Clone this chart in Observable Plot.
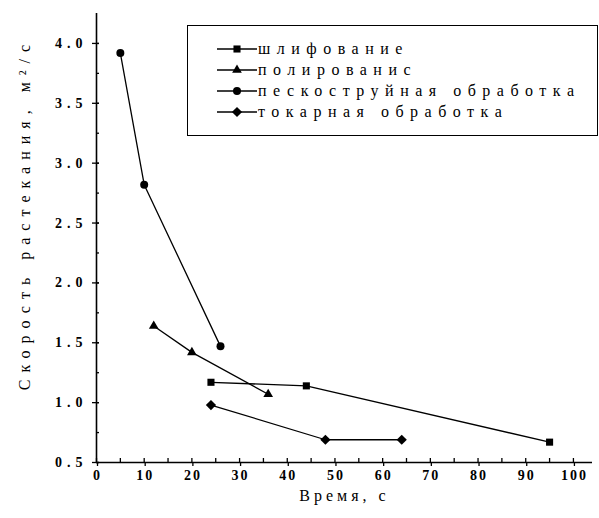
<!DOCTYPE html>
<html>
<head>
<meta charset="utf-8">
<script src="https://cdn.jsdelivr.net/npm/d3@7"></script>
<script src="https://cdn.jsdelivr.net/npm/@observablehq/plot@0.6"></script>
<style>
  body { margin: 0; background: #fff; }
  #wrap { position: relative; width: 599px; height: 518px; font-family: "Liberation Serif", serif; }
  #wrap svg g[aria-label="x-axis tick label"] text { font-weight: bold; letter-spacing: 2px; }
  #wrap svg g[aria-label="y-axis tick label"] text { font-weight: bold; letter-spacing: 5px; }
  #wrap svg g[aria-label="text"] text { letter-spacing: 4px; }
  #wrap svg g[aria-label="text"]:last-of-type text { letter-spacing: 7px; }
  #legend { position: absolute; left: 187px; top: 25px; width: 411px; height: 111px; box-sizing: border-box;
            border: 1.5px solid #000; background: #fff; padding-top: 12px; }
  .row { display: flex; align-items: center; height: 21px; }
  .row svg { margin-left: 27px; flex: none; }
  .row span { margin-left: -1px; font-size: 16px; letter-spacing: 6.5px; white-space: nowrap; color: #000; }
</style>
</head>
<body>
<div id="wrap"></div>
<script>
// ---- data ----
const seriesNames = ["шлифование", "полированис", "пескоструйная обработка", "токарная обработка"];
const seriesSymbols = ["square", "triangle", "circle", "diamond2"];
const seriesR = [4, 3.6, 4, 4.6];

const grindTime = [24, 44, 95];
const grindSpeed = [1.17, 1.14, 0.67];
const polishTime = [12, 20, 36];
const polishSpeed = [1.64, 1.42, 1.07];
const blastTime = [5, 10, 26];
const blastSpeed = [3.92, 2.82, 1.47];
const turnTime = [24, 48, 64];
const turnSpeed = [0.98, 0.69, 0.69];

const xMajor = [0, 10, 20, 30, 40, 50, 60, 70, 80, 90, 100];
const xMinor = [0, 5, 10, 15, 20, 25, 30, 35, 40, 45, 50, 55, 60, 65, 70, 75, 80, 85, 90, 95, 100];
const yMajor = [0.5, 1.0, 1.5, 2.0, 2.5, 3.0, 3.5, 4.0];
const yMinor = [0.5, 0.75, 1.0, 1.25, 1.5, 1.75, 2.0, 2.25, 2.5, 2.75, 3.0, 3.25, 3.5, 3.75, 4.0];

const xTitle = "Время, с";
const yTitle = "Скорость растекания, м²/с";

// ---- build rows ----
const times = [grindTime, polishTime, blastTime, turnTime];
const speeds = [grindSpeed, polishSpeed, blastSpeed, turnSpeed];
const rows = [];
seriesNames.forEach((s, i) => times[i].forEach((t, j) => rows.push({series: s, t, v: speeds[i][j]})));

const font = "Liberation Serif";
const dotMarks = seriesNames.map((s, i) =>
  Plot.dot(rows.filter(d => d.series === s), {x: "t", y: "v", symbol: () => seriesSymbols[i], r: seriesR[i], fill: "#000", stroke: "none"})
);

const chart = Plot.plot({
  width: 599,
  height: 518,
  marginLeft: 96,
  marginRight: 7,
  marginTop: 13,
  marginBottom: 56,
  style: {fontFamily: font, fontSize: "14px", color: "#000", background: "#fff"},
  x: {domain: [0, 104], label: null},
  y: {domain: [0.5, 4.25], label: null},
  symbol: {type: "identity"},
  marks: [
    Plot.axisX(xMinor, {tickSize: -4, tickFormat: () => "", strokeWidth: 1.3, label: null}),
    Plot.axisX(xMajor, {tickSize: 4, tickPadding: 4, tickFormat: d => String(d), strokeWidth: 1.3, fontSize: 14, dx: 1, label: null}),
    Plot.axisY(yMinor, {tickSize: -3, tickFormat: () => "", strokeWidth: 1.3, label: null}),
    Plot.axisY(yMajor, {tickSize: 7, tickPadding: 5, tickFormat: d => d.toFixed(1), strokeWidth: 1.3, fontSize: 14, dx: 3, label: null}),
    Plot.ruleX([0], {y1: 0.5, y2: 4.25, strokeWidth: 1.6}),
    Plot.ruleY([0.5], {x1: 0, x2: 104, strokeWidth: 1.6}),
    Plot.line(rows, {x: "t", y: "v", z: "series", stroke: "#000", strokeWidth: 1.3}),
    ...dotMarks,
    Plot.text([xTitle], {frameAnchor: "bottom", dy: 38, fontSize: 16, fill: "#000"}),
    Plot.text([yTitle], {frameAnchor: "left", textAnchor: "middle", dx: -72, dy: -24, rotate: -90, fontSize: 16, fill: "#000"})
  ]
});

const wrap = document.getElementById("wrap");
wrap.appendChild(chart);

// ---- legend (HTML overlay inside plot area) ----
const legend = document.createElement("div");
legend.id = "legend";
seriesNames.forEach((s, i) => {
  const row = document.createElement("div");
  row.className = "row";
  const sw = d3.create("svg").attr("width", 44).attr("height", 16);
  sw.append("line").attr("x1", 2).attr("x2", 42).attr("y1", 8).attr("y2", 8).attr("stroke", "#000").attr("stroke-width", 1.3);
  const sym = {square: d3.symbolSquare, triangle: d3.symbolTriangle, circle: d3.symbolCircle, diamond2: d3.symbolDiamond2}[seriesSymbols[i]];
  sw.append("path").attr("transform", "translate(22,8)")
    .attr("d", d3.symbol(sym, Math.PI * seriesR[i] * seriesR[i])()).attr("fill", "#000");
  row.appendChild(sw.node());
  const label = document.createElement("span");
  label.textContent = s;
  row.appendChild(label);
  legend.appendChild(row);
});
wrap.appendChild(legend);
</script>
</body>
</html>
